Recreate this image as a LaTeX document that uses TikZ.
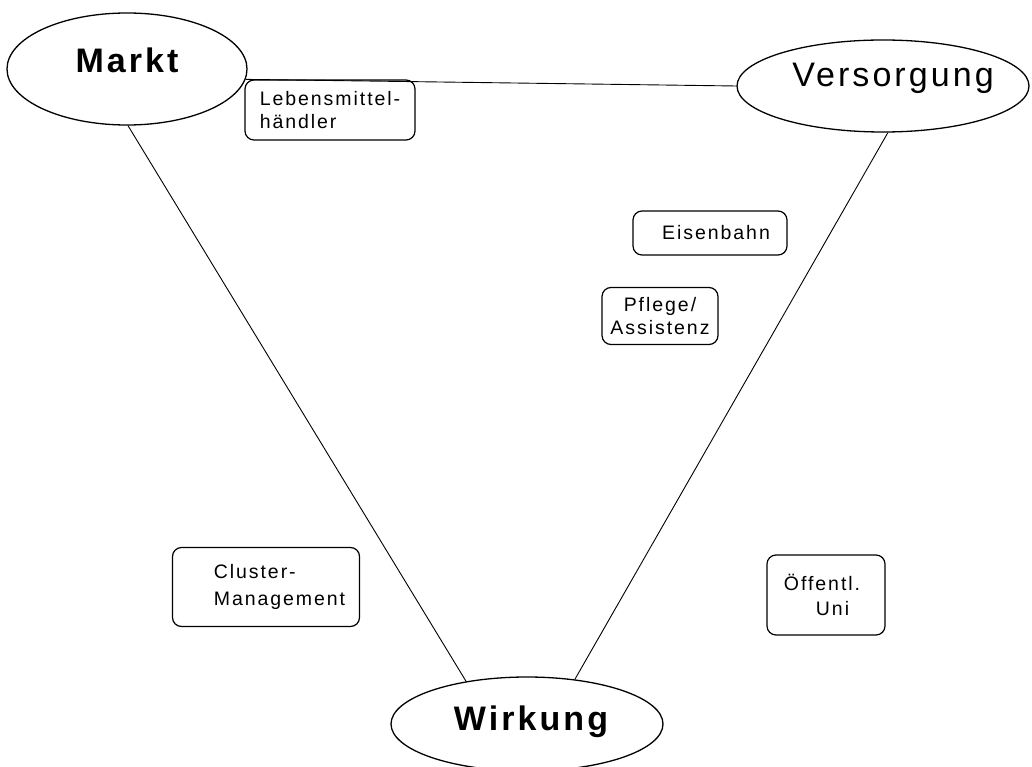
\documentclass[tikz,border=0pt]{standalone}
\usepackage{fontspec}
\setmainfont{Liberation Sans}
\newfontfamily\titlefont[LetterSpace=9]{Liberation Sans}
\newfontfamily\labelfont[LetterSpace=10]{Liberation Sans}
\usetikzlibrary{shapes.geometric}
\begin{document}
\begin{tikzpicture}[x=1pt,y=-1pt,
  pole/.style={draw, ellipse, line width=1.3pt, inner sep=0pt,
    font=\titlefont\fontsize{34}{38}\selectfont},
  actor/.style={draw, rounded corners=9pt, line width=1.2pt, inner sep=0pt,
    align=left, font=\labelfont\fontsize{19.5}{23}\selectfont},
  link/.style={line width=0.9pt}]
\useasboundingbox[fill=white] (0,0) rectangle (1032,767);
% poles
\node[pole, minimum width=240pt, minimum height=112pt, text depth=18pt] (markt) at (127,69) {\bfseries Markt};
\node[pole, minimum width=292pt, minimum height=92pt, text depth=22pt, inner xsep=-20pt] (versorgung) at (883,86) {\hspace*{20pt}Versorgung};
\node[pole, minimum width=272pt, minimum height=94pt, text depth=12pt] (wirkung) at (527,724) {\hspace*{8pt}\bfseries Wirkung};
% actors
\node[actor, minimum width=170pt, minimum height=60pt] (haendler) at (330,110) {Lebensmittel-\\händler};
\node[actor, minimum width=154pt, minimum height=44pt] (bahn) at (710,233) {\hspace*{12pt}Eisenbahn};
\node[actor, align=center, minimum width=116pt, minimum height=57pt] (pflege) at (660,316) {Pflege/\\Assistenz};
\node[actor, minimum width=187pt, minimum height=79pt, font=\labelfont\fontsize{19.5}{27}\selectfont] (cluster) at (266,587) {\hspace*{27pt}Cluster-\\\hspace*{27pt}Management};
\node[actor, minimum width=118pt, minimum height=80pt, font=\labelfont\fontsize{19.5}{25}\selectfont] (uni) at (826,595) {Öffentl.\hspace*{8pt}\\\hspace*{32pt}Uni};
% triangle
\draw[link] (markt.-5) -- (versorgung.180);
\draw[link] (markt.-89) -- (wirkung.145);
\draw[link] (versorgung.-84) -- (wirkung.43);
\end{tikzpicture}
\end{document}
